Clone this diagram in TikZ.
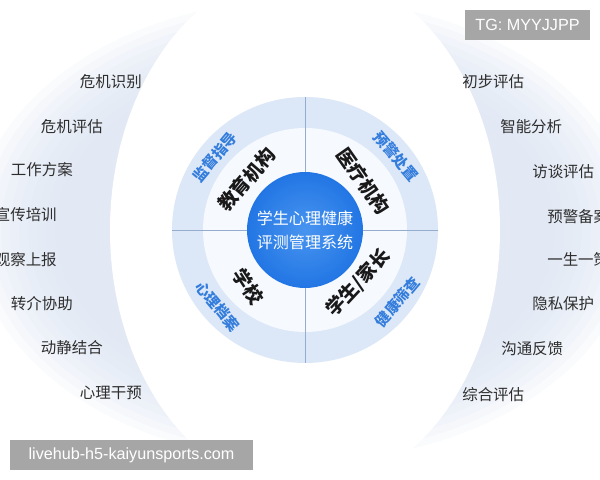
\documentclass[tikz,border=0pt]{standalone}
\usepackage{fontspec}
\setmainfont{Noto Sans CJK SC}
\newfontfamily\latinfont{Liberation Sans}
\usetikzlibrary{positioning}
\definecolor{ring_blue}{RGB}{220, 232, 248}
\definecolor{inner_white}{RGB}{246, 249, 254}
\definecolor{core_blue}{RGB}{34, 118, 228}
\definecolor{core_light}{RGB}{72, 148, 240}
\definecolor{label_blue}{RGB}{52, 125, 220}
\definecolor{line_blue}{RGB}{150, 172, 205}
\definecolor{text_gray}{RGB}{45, 45, 45}
\definecolor{halo_gray}{RGB}{220, 228, 242}
\definecolor{mark_gray}{RGB}{166, 166, 166}

\begin{document}
\begin{tikzpicture}[
    x=0.025cm, y=0.025cm,
    side_label/.style={
        inner sep=0pt,
        text=text_gray,
        font=\fontsize{11}{13}\selectfont
    },
    ring_label/.style={
        inner sep=0pt,
        text=label_blue,
        rotate=#1,
        font=\fontsize{10.5}{12}\selectfont\bfseries
    },
    sector/.style={
        inner sep=0pt,
        text=black!90,
        rotate=#1,
        font=\fontsize{13.5}{16}\selectfont\bfseries
    },
    core/.style={
        circle,
        inner color=core_light,
        outer color=core_blue,
        minimum size=2.85cm,
        text=white,
        align=center,
        font=\fontsize{11.4}{17}\selectfont
    },
    wm_box/.style={
        rectangle,
        fill=mark_gray,
        text=white,
        inner sep=0pt,
        font=\latinfont\fontsize{11.5}{13}\selectfont
    },
    cross/.style={
        line_blue,
        line width=0.6pt
    },
    halo/.style={
        fill=halo_gray,
        opacity=0.16
    }
]
\useasboundingbox (0,0) rectangle (600,480);
\coordinate (c) at (305,250);

% background halo and rings
\foreach \i in {0,...,9}
    \fill[halo] (c) ellipse [x radius=250+9*\i, y radius=168+7*\i];
\fill[white] (c) ellipse [x radius=195, y radius=262];
\fill[ring_blue] (c) circle (133);
\fill[inner_white] (c) circle (102);
\draw[cross] ([shift={(0,133)}]c) -- ([shift={(0,-133)}]c);
\draw[cross] ([shift={(-133,0)}]c) -- ([shift={(133,0)}]c);

\node[core] (core) at (c) {学生心理健康\\评测管理系统};

% quadrants
\node[sector=49] (edu) at ([shift={(139:77)}]c) {教育机构};
\node[sector=-55] (med) at ([shift={(40:76)}]c) {医疗机构};
\node[sector=-57] (school) at ([shift={(225:80)}]c) {学校};
\node[sector=47] (family) at ([shift={(-45:75)}]c) {学生/家长};

\node[ring_label=50] (guide) at ([shift={(141:116)}]c) {监督指导};
\node[ring_label=-50] (alarm) at ([shift={(39:117)}]c) {预警处置};
\node[ring_label=-50] (archive) at ([shift={(221:116)}]c) {心理档案};
\node[ring_label=50] (screen) at ([shift={(-38:117)}]c) {健康筛查};

% left column
\node[side_label, anchor=east] (l1) at (142,398) {危机识别};
\node[side_label, anchor=east] (l2) at (103,353) {危机评估};
\node[side_label, anchor=east] (l3) at (73,310) {工作方案};
\node[side_label, anchor=east] (l4) at (57,265) {宣传培训};
\node[side_label, anchor=east] (l5) at (57,220) {观察上报};
\node[side_label, anchor=east] (l6) at (73,176) {转介协助};
\node[side_label, anchor=east] (l7) at (103,132) {动静结合};
\node[side_label, anchor=east] (l8) at (142,87) {心理干预};

% right column
\node[side_label, anchor=west] (r1) at (462,398) {初步评估};
\node[side_label, anchor=west] (r2) at (500,353) {智能分析};
\node[side_label, anchor=west] (r3) at (532,308) {访谈评估};
\node[side_label, anchor=west] (r4) at (547,263) {预警备案};
\node[side_label, anchor=west] (r5) at (547,220) {一生一策};
\node[side_label, anchor=west] (r6) at (532,176) {隐私保护};
\node[side_label, anchor=west] (r7) at (501,131) {沟通反馈};
\node[side_label, anchor=west] (r8) at (462,85) {综合评估};

% watermarks
\node[wm_box, minimum width=3.125cm, minimum height=0.75cm] (tg) at (527.5,455) {TG: MYYJJPP};
\node[wm_box, minimum width=6.075cm, minimum height=0.75cm] (site) at (131.5,25) {livehub-h5-kaiyunsports.com};

\end{tikzpicture}
\end{document}
